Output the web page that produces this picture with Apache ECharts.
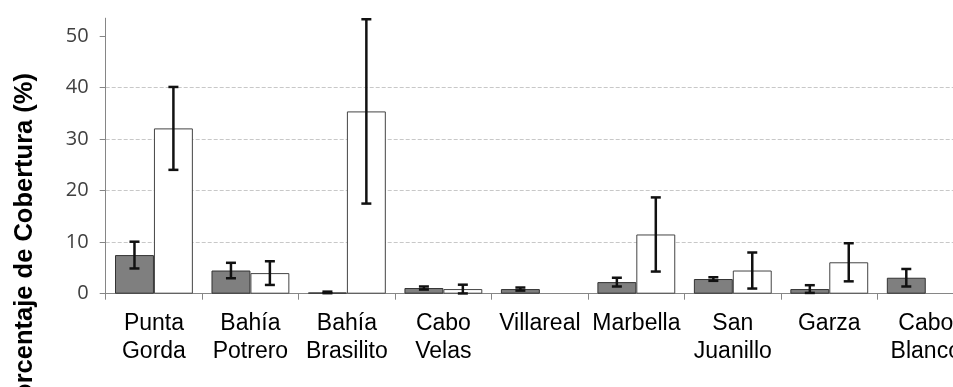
<!DOCTYPE html>
<html>
<head>
<meta charset="utf-8">
<script src="https://cdn.jsdelivr.net/npm/echarts@6/dist/echarts.min.js"></script>
<style>
html,body{margin:0;padding:0;background:#fff;overflow:hidden;}
#chart{width:974px;height:387px;}
</style>
</head>
<body>
<div id="chart"></div>
<script>
// ---- data ----
var categories = ['Punta\nGorda', 'Bahía\nPotrero', 'Bahía\nBrasilito', 'Cabo\nVelas', 'Villareal', 'Marbella', 'San\nJuanillo', 'Garza', 'Cabo\nBlanco'];
var darkMean = [7.5, 4.5, 0.25, 1.1, 0.9, 2.25, 2.85, 0.9, 3.1];
var darkErr  = [2.6, 1.5, 0.15, 0.3, 0.3, 0.85, 0.35, 0.75, 1.7];
var lightMean = [32.1, 4.0, 35.4, 0.9, null, 11.5, 4.5, 6.1, null];
var lightErr  = [8.05, 2.3, 17.9, 0.85, null, 7.2, 3.5, 3.7, null];
var yTicks = [0, 10, 20, 30, 40, 50];
var yTitle = 'Porcentaje de Cobertura (%)';

var CAT_GAP = 0.193;

function errData(means, errs) {
  return means.map(function (m, i) { return [i, m, errs[i]]; });
}
function errSeries(means, errs, side) {
  return {
    type: 'custom',
    z: 5,
    silent: true,
    data: errData(means, errs),
    renderItem: function (params, api) {
      var m = api.value(1), e = api.value(2);
      if (m == null || isNaN(m) || e == null || isNaN(e)) return null;
      var i = api.value(0);
      var band = api.size([1, 0])[0];
      var bw = band * (1 - CAT_GAP) / 2;
      var hi = api.coord([i, m + e]);
      var lo = api.coord([i, Math.max(m - e, 0)]);
      var cx = hi[0] + side * bw / 2;
      var cap = 5;
      var st = {stroke: '#111', lineWidth: 2.5};
      return {
        type: 'group',
        children: [
          {type: 'line', shape: {x1: cx, y1: hi[1], x2: cx, y2: lo[1]}, style: st},
          {type: 'line', shape: {x1: cx - cap, y1: hi[1], x2: cx + cap, y2: hi[1]}, style: st},
          {type: 'line', shape: {x1: cx - cap, y1: lo[1], x2: cx + cap, y2: lo[1]}, style: st}
        ]
      };
    }
  };
}

var chart = echarts.init(document.getElementById('chart'), null, {renderer: 'canvas'});
chart.setOption({
  animation: false,
  backgroundColor: '#fff',
  grid: {left: 105.7, top: 18.2, right: 0, bottom: 93.3, containLabel: false},
  xAxis: {
    type: 'category',
    data: categories,
    boundaryGap: true,
    axisLine: {lineStyle: {color: '#868686', width: 1}},
    axisTick: {show: true, alignWithLabel: false, length: 6, lineStyle: {color: '#868686'}},
    axisLabel: {
      interval: 0,
      margin: 16,
      color: '#000',
      fontFamily: 'Liberation Sans',
      fontSize: 23,
      lineHeight: 28
    }
  },
  yAxis: {
    type: 'value',
    min: 0,
    max: 53.5,
    interval: 10,
    axisLine: {show: true, lineStyle: {color: '#868686', width: 1}},
    axisTick: {show: true, length: 6, lineStyle: {color: '#868686'}, customValues: yTicks},
    axisLabel: {
      customValues: yTicks,
      margin: 17,
      color: '#404040',
      fontFamily: 'Open Sans',
      fontSize: 20
    },
    splitLine: {
      show: true,
      showMaxLine: false,
      lineStyle: {color: '#c8c8c8', type: [4, 2], width: 1}
    }
  },
  graphic: [{
    type: 'text',
    x: 25,
    y: 73,
    rotation: Math.PI / 2,
    style: {
      text: yTitle,
      fontFamily: 'Liberation Sans',
      fontWeight: 'bold',
      fontSize: 25.5,
      fill: '#000',
      align: 'right',
      verticalAlign: 'middle'
    }
  }],
  series: [
    {
      type: 'bar',
      data: darkMean,
      barGap: '0%',
      barCategoryGap: (CAT_GAP * 100) + '%',
      itemStyle: {color: '#7f7f7f', borderColor: '#333', borderWidth: 1}
    },
    {
      type: 'bar',
      data: lightMean,
      barGap: '0%',
      barCategoryGap: (CAT_GAP * 100) + '%',
      itemStyle: {color: '#ffffff', borderColor: '#444', borderWidth: 1}
    },
    errSeries(darkMean, darkErr, -1),
    errSeries(lightMean, lightErr, 1)
  ]
});
</script>
</body>
</html>
